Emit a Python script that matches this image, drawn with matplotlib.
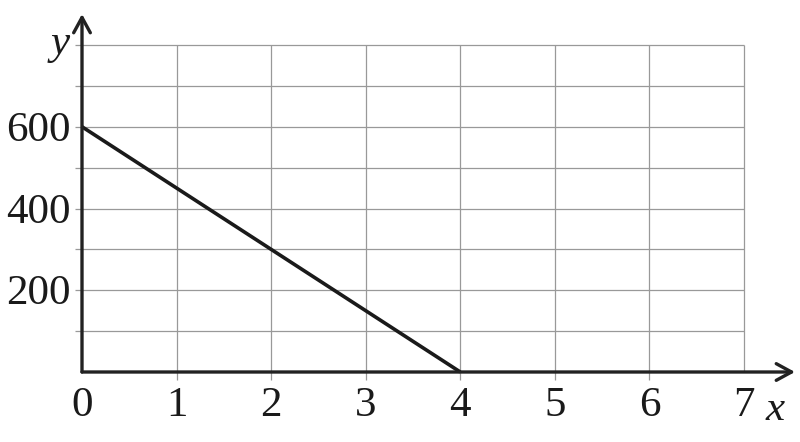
import matplotlib
matplotlib.use("Agg")
import matplotlib.pyplot as plt

# data
line_x = [0, 4]
line_y = [600, 0]
x_ticks = [0, 1, 2, 3, 4, 5, 6, 7]
y_ticks = [200, 400, 600]
grid_y = [100, 200, 300, 400, 500, 600, 700, 800]
grid_x = [1, 2, 3, 4, 5, 6, 7]

plt.rcParams['font.family'] = ['Liberation Serif', 'DejaVu Serif']

W, H = 800, 442
fig = plt.figure(figsize=(W / 100, H / 100), dpi=100)
# origin at pixel (82, 372), arrow tips at x=795 and y=14
ax = fig.add_axes([82 / W, (H - 372) / H, (795 - 82) / W, (372 - 14) / H])
xpx = 662 / 7        # pixels per x unit
ypx = 327 / 800      # pixels per y unit
ax.set_xlim(0, 713 / xpx)
ax.set_ylim(0, 358 / ypx)
ax.axis('off')

grid_col = '#999999'
ax.hlines(grid_y, -7 / xpx, 7, color=grid_col, lw=0.9, clip_on=False)
ax.vlines(grid_x[:-1], -8 / ypx, 800, color=grid_col, lw=0.9, clip_on=False)
ax.vlines(grid_x[-1:], 0, 800, color=grid_col, lw=0.9, clip_on=False)

# axes with open arrow heads
arrow = dict(arrowstyle='->,head_length=1.1,head_width=0.6', lw=2.4, color='#222222',
             shrinkA=0, shrinkB=0)
ax.annotate('', xy=(713 / xpx, 0), xytext=(0, 0), arrowprops=arrow, annotation_clip=False)
ax.annotate('', xy=(0, 358 / ypx), xytext=(0, 0), arrowprops=arrow, annotation_clip=False)

ax.plot(line_x, line_y, color='#1a1a1a', lw=2.6, solid_capstyle='butt', clip_on=False)

fs = 31
for t in x_ticks:
    ax.text(t, -34 / ypx, str(t), ha='center', va='center', fontsize=fs, color='#1a1a1a')
for t in y_ticks:
    ax.text(-11 / xpx, t - 4 / ypx, str(t), ha='right', va='center', fontsize=fs, color='#1a1a1a')

ax.text(-22 / xpx, 328 / ypx, 'y', ha='center', va='center', fontsize=fs, style='italic', color='#1a1a1a')
ax.text(693 / xpx, -38 / ypx, 'x', ha='center', va='center', fontsize=fs, style='italic', color='#1a1a1a')

fig.savefig('out.png', dpi=100, facecolor='white')
